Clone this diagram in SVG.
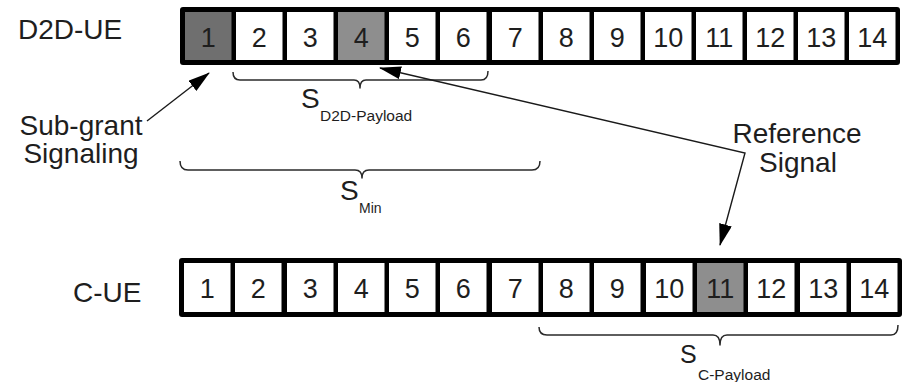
<svg xmlns="http://www.w3.org/2000/svg" width="906" height="382" viewBox="0 0 906 382">
  <style>
    .lbl { font-family: "Liberation Sans", Arial, sans-serif; fill: #1e1e1e; }
    .big { font-size: 28px; }
    .num { font-size: 27px; text-anchor: middle; }
    .sub { font-size: 15.5px; }
    .frame { fill: #000; }
    .cell { fill: #fff; }
    .dark { fill: #6f6f6f; }
    .mid { fill: #8e8e8e; }
    .brace { fill: none; stroke: #2a2a2a; stroke-width: 1.5; stroke-linejoin: round; }
    .arrow { fill: none; stroke: #1a1a1a; stroke-width: 1.4; }
  </style>
  <defs>
    <marker id="head" markerUnits="userSpaceOnUse" markerWidth="22" markerHeight="13" refX="21" refY="6.5" orient="auto-start-reverse">
      <path d="M0,0 L22,6.5 L0,13 z" fill="#000"/>
    </marker>
  </defs>
  <rect width="906" height="382" fill="#fff"/>

  <!-- row labels -->
  <g id="label-d2d"><text class="lbl big" x="18" y="39">D2D-UE</text></g>
  <g id="label-cue"><text class="lbl big" x="73" y="302">C-UE</text></g>

  <!-- D2D-UE subframe: 14 symbols -->
  <g id="row-d2d">
    <rect class="frame" x="180" y="7" width="720" height="58" rx="3"/>
    <g id="d2d-1"><rect class="dark" x="185" y="12" width="46.5" height="48"/><text class="lbl num" x="208.2" y="47">1</text></g>
    <g id="d2d-2"><rect class="cell" x="236" y="12" width="46.5" height="48"/><text class="lbl num" x="259.2" y="47">2</text></g>
    <g id="d2d-3"><rect class="cell" x="287" y="12" width="46.5" height="48"/><text class="lbl num" x="310.2" y="47">3</text></g>
    <g id="d2d-4"><rect class="mid" x="338" y="12" width="46.5" height="48"/><text class="lbl num" x="361.2" y="47">4</text></g>
    <g id="d2d-5"><rect class="cell" x="389" y="12" width="46.5" height="48"/><text class="lbl num" x="412.2" y="47">5</text></g>
    <g id="d2d-6"><rect class="cell" x="440" y="12" width="46.5" height="48"/><text class="lbl num" x="463.2" y="47">6</text></g>
    <g id="d2d-7"><rect class="cell" x="492" y="12" width="46.5" height="48"/><text class="lbl num" x="515.2" y="47">7</text></g>
    <g id="d2d-8"><rect class="cell" x="543" y="12" width="46.5" height="48"/><text class="lbl num" x="566.2" y="47">8</text></g>
    <g id="d2d-9"><rect class="cell" x="594" y="12" width="46.5" height="48"/><text class="lbl num" x="617.2" y="47">9</text></g>
    <g id="d2d-10"><rect class="cell" x="645" y="12" width="46.5" height="48"/><text class="lbl num" x="668.2" y="47">10</text></g>
    <g id="d2d-11"><rect class="cell" x="696" y="12" width="46.5" height="48"/><text class="lbl num" x="719.2" y="47">11</text></g>
    <g id="d2d-12"><rect class="cell" x="747" y="12" width="46.5" height="48"/><text class="lbl num" x="770.2" y="47">12</text></g>
    <g id="d2d-13"><rect class="cell" x="798" y="12" width="46.5" height="48"/><text class="lbl num" x="821.2" y="47">13</text></g>
    <g id="d2d-14"><rect class="cell" x="849" y="12" width="46.5" height="48"/><text class="lbl num" x="872.2" y="47">14</text></g>
  </g>

  <!-- C-UE subframe: 14 symbols -->
  <g id="row-cue">
    <rect class="frame" x="179" y="258" width="723" height="59" rx="3"/>
    <g id="cue-1"><rect class="cell" x="184" y="263" width="46.5" height="49"/><text class="lbl num" x="207.2" y="298">1</text></g>
    <g id="cue-2"><rect class="cell" x="235" y="263" width="46.5" height="49"/><text class="lbl num" x="258.2" y="298">2</text></g>
    <g id="cue-3"><rect class="cell" x="287" y="263" width="46.5" height="49"/><text class="lbl num" x="310.2" y="298">3</text></g>
    <g id="cue-4"><rect class="cell" x="338" y="263" width="46.5" height="49"/><text class="lbl num" x="361.2" y="298">4</text></g>
    <g id="cue-5"><rect class="cell" x="389" y="263" width="46.5" height="49"/><text class="lbl num" x="412.2" y="298">5</text></g>
    <g id="cue-6"><rect class="cell" x="440" y="263" width="46.5" height="49"/><text class="lbl num" x="463.2" y="298">6</text></g>
    <g id="cue-7"><rect class="cell" x="492" y="263" width="46.5" height="49"/><text class="lbl num" x="515.2" y="298">7</text></g>
    <g id="cue-8"><rect class="cell" x="543" y="263" width="46.5" height="49"/><text class="lbl num" x="566.2" y="298">8</text></g>
    <g id="cue-9"><rect class="cell" x="594" y="263" width="46.5" height="49"/><text class="lbl num" x="617.2" y="298">9</text></g>
    <g id="cue-10"><rect class="cell" x="646" y="263" width="46.5" height="49"/><text class="lbl num" x="669.2" y="298">10</text></g>
    <g id="cue-11"><rect class="mid" x="697" y="263" width="46.5" height="49"/><text class="lbl num" x="720.2" y="298">11</text></g>
    <g id="cue-12"><rect class="cell" x="748" y="263" width="46.5" height="49"/><text class="lbl num" x="771.2" y="298">12</text></g>
    <g id="cue-13"><rect class="cell" x="800" y="263" width="46.5" height="49"/><text class="lbl num" x="823.2" y="298">13</text></g>
    <g id="cue-14"><rect class="cell" x="851" y="263" width="46.5" height="49"/><text class="lbl num" x="874.2" y="298">14</text></g>
  </g>

  <!-- span braces with their labels -->
  <g id="span-d2d-payload">
    <path class="brace" d="M233,72 Q233,80 240,80 L354,80 Q360,80 360,88 Q360,80 366,80 L481,80 Q488,80 488,71"/>
    <text class="lbl big" x="301" y="108">S</text>
    <text class="lbl sub" x="320" y="121">D2D-Payload</text>
  </g>
  <g id="span-min">
    <path class="brace" d="M180,161 Q180,170 188,170 L355,170 Q362,170 362,178 Q362,170 369,170 L532,170 Q540,170 540,161"/>
    <text class="lbl big" x="340" y="200">S</text>
    <text class="lbl" font-size="14" x="359" y="213">Min</text>
  </g>
  <g id="span-c-payload">
    <path class="brace" d="M539,327 Q539,335 547,335 L713,335 Q720,335 720,345 Q720,335 727,335 L891,335 Q898,335 898,325"/>
    <text class="lbl" font-size="25" x="680" y="363">S</text>
    <text class="lbl sub" x="698" y="380">C-Payload</text>
  </g>

  <!-- annotation labels -->
  <g id="note-subgrant">
    <text class="lbl big" x="81" y="135" text-anchor="middle">Sub-grant</text>
    <text class="lbl big" x="81" y="163" text-anchor="middle">Signaling</text>
  </g>
  <g id="note-reference">
    <text class="lbl big" x="797" y="143" text-anchor="middle">Reference</text>
    <text class="lbl big" x="798" y="172" text-anchor="middle">Signal</text>
  </g>

  <!-- pointers -->
  <g id="connectors">
    <path class="arrow" d="M147,121 L209,73" marker-end="url(#head)"/>
    <path class="arrow" d="M380,68 L745,153 L720,245" marker-start="url(#head)" marker-end="url(#head)"/>
  </g>
</svg>
